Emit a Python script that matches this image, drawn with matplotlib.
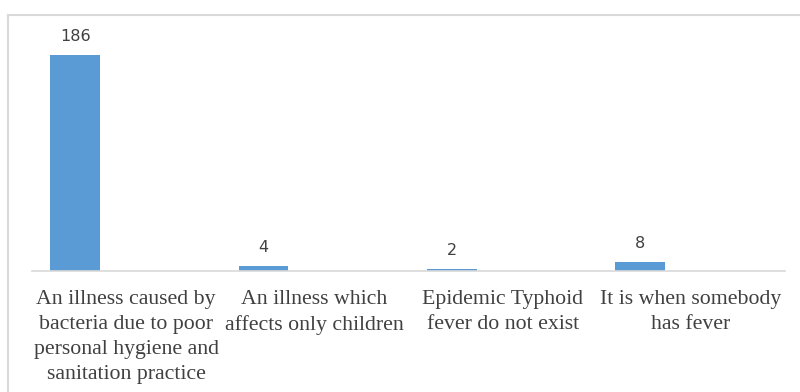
import matplotlib
matplotlib.use("Agg")
import matplotlib.pyplot as plt
from matplotlib.lines import Line2D
import numpy as np

categories = [
    "An illness caused by\nbacteria due to poor\npersonal hygiene and\nsanitation practice",
    "An illness which\naffects only children",
    "Epidemic Typhoid\nfever do not exist",
    "It is when somebody\nhas fever",
]
counts = [186, 4, 2, 8]

W, H = 800, 392
fig = plt.figure(figsize=(W / 100, H / 100), dpi=100)

# plot area in pixel terms
left_px, right_px = 32, 785
base_px, top_px = 271, 39
ax = fig.add_axes([left_px / W, 1 - base_px / H,
                   (right_px - left_px) / W, (base_px - top_px) / H])

x = np.arange(len(categories))
bar_w = 0.265
offset = -0.27
bars = ax.bar(x + offset, counts, width=bar_w, color="#5b9bd5", zorder=2)

for rect, v in zip(bars, counts):
    ax.annotate(str(v), (rect.get_x() + rect.get_width() / 2, v),
                xytext=(0, 8), textcoords="offset points",
                ha="center", va="bottom", fontsize=11.5, color="#404040",
                family="DejaVu Sans")

ax.set_xlim(-0.5, len(categories) - 0.5)
ax.set_ylim(0, 200)
ax.set_xticks(x)
ax.set_xticklabels(categories, family="Liberation Serif", fontsize=15.7,
                   color="#404040", linespacing=1.43)
ax.tick_params(axis="x", length=0, pad=13.5)
ax.set_yticks([])
for side in ["left", "right", "top"]:
    ax.spines[side].set_visible(False)
ax.spines["bottom"].set_color("#d9d9d9")
ax.spines["bottom"].set_linewidth(1.2)

# outer chart frame (top and left edges visible)
fig.add_artist(Line2D([8 / W, 1], [1 - 15 / H, 1 - 15 / H],
                      transform=fig.transFigure, color="#d9d9d9", lw=1.5))
fig.add_artist(Line2D([8 / W, 8 / W], [0, 1 - 15 / H],
                      transform=fig.transFigure, color="#d9d9d9", lw=1.5))

fig.savefig("out.png", dpi=100)
